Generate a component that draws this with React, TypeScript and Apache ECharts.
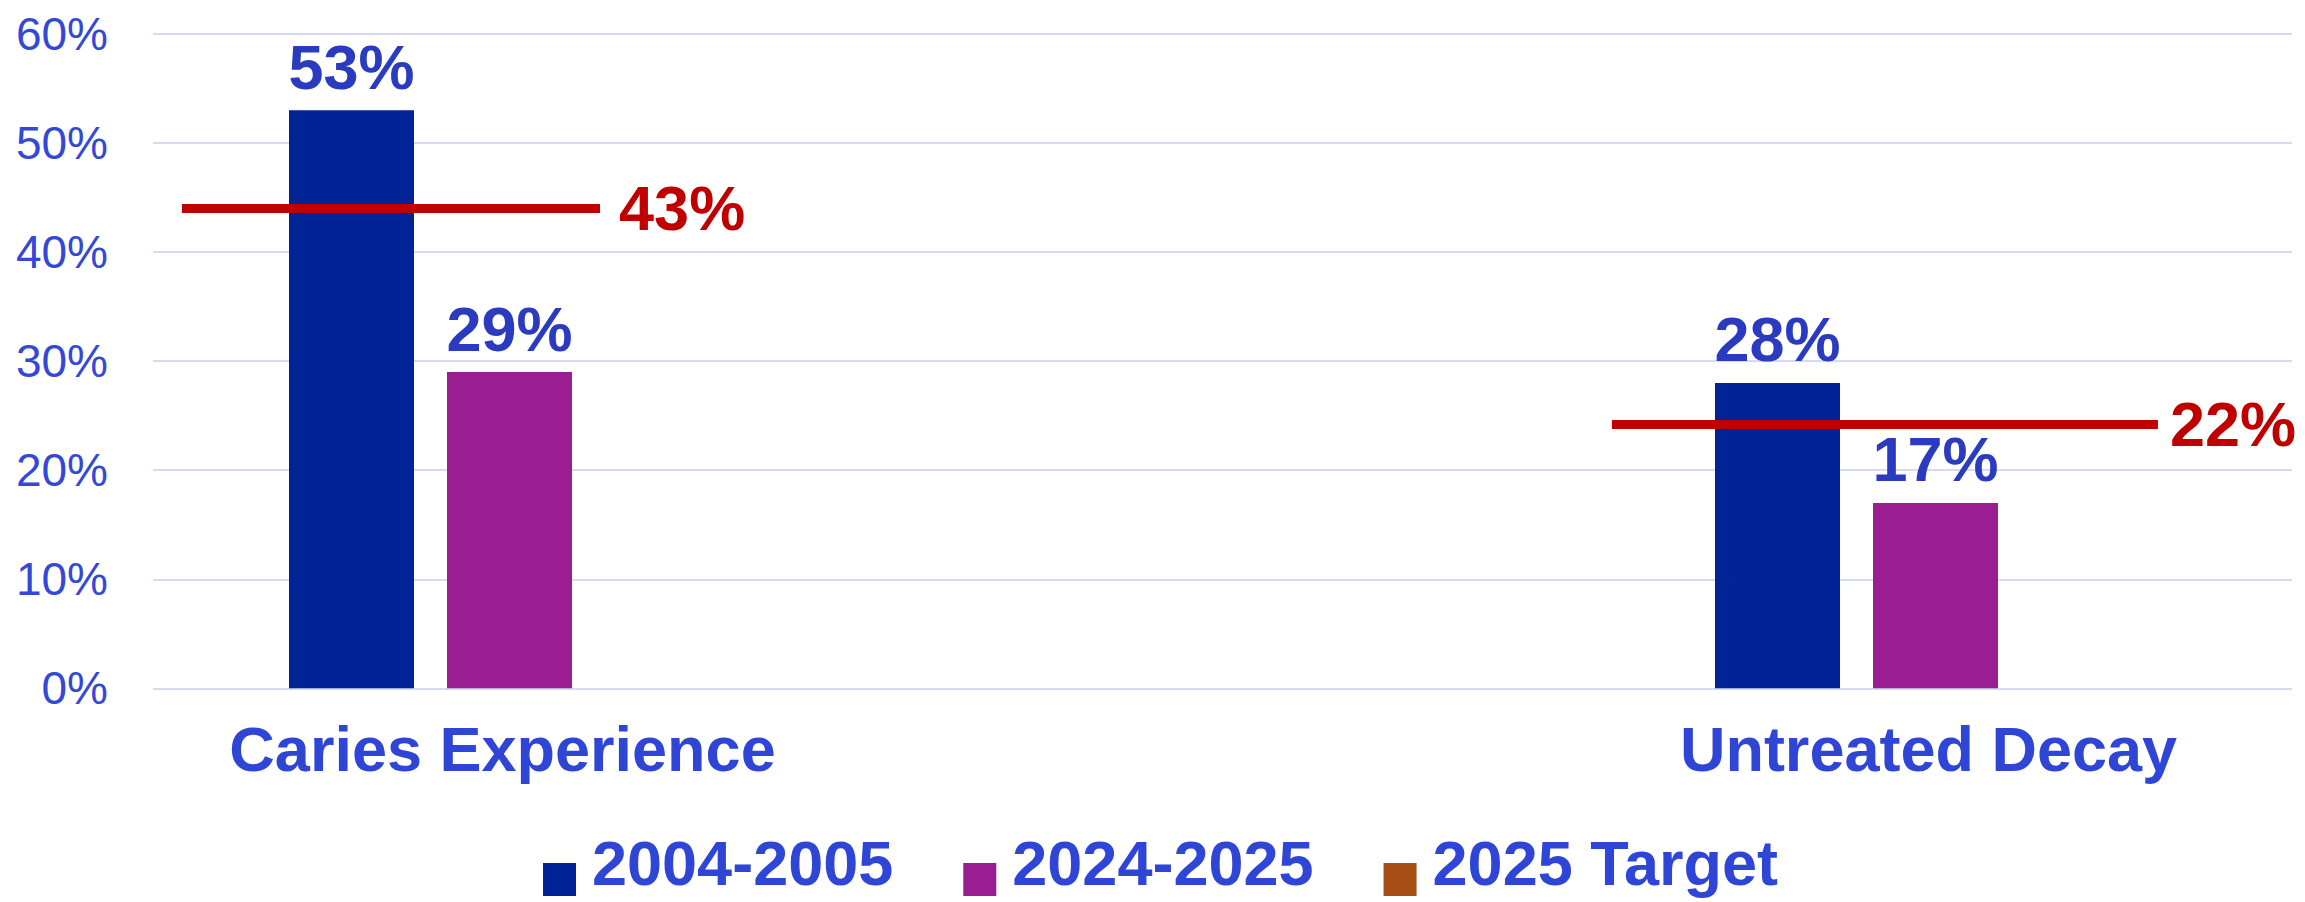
import React, { useEffect, useRef } from "react";
import * as echarts from "echarts";

// ---- data ----
const categories = ["Caries Experience", "Untreated Decay"];
const seriesNames = ["2004-2005", "2024-2025", "2025 Target"];
const values2004 = [53, 28];
const values2024 = [29, 17];
const targetValues = [43, 22]; // labelled target values
const targetLineLevels = [44.0, 24.2]; // level at which target lines are drawn
const yTicks = [0, 10, 20, 30, 40, 50, 60];

// ---- layout (axis units: category i sits at x = i) ----
const targetSpan = [
  [-0.1743, 0.1189],
  [0.8285, 1.2114],
];
const targetLabelGap = [19, 12];

const FONT = "'Liberation Sans', Arial, sans-serif";
const TEXT_BLUE = "#2f45d6";
const LABEL_BLUE = "#2a3bbf";
const RED = "#c00000";
const COLORS = ["#002395", "#9b1d92", "#a84e17"];
// legend square sitting low in its item box
const LEGEND_ICON = "path://M0,0L0,0M0,34L33,34L33,67L0,67Z";

export default function App() {
  const ref = useRef<HTMLDivElement>(null);

  useEffect(() => {
    document.body.style.margin = "0";
    if (!ref.current) return;
    const chart = echarts.init(ref.current, undefined, { renderer: "svg" });

    const barLabel = {
      show: true,
      position: "top",
      distance: 12,
      color: LABEL_BLUE,
      fontSize: 63,
      fontWeight: "bold",
      fontFamily: FONT,
      formatter: (p: any) => `${p.value[1]}%`,
    };

    const option: any = {
      animation: false,
      backgroundColor: "#ffffff",
      grid: { left: 153, right: 13, top: 34, height: 654.3, containLabel: false },
      legend: {
        left: 538,
        top: 824,
        icon: LEGEND_ICON,
        itemWidth: 33,
        itemHeight: 67,
        itemGap: 70,
        textStyle: {
          color: TEXT_BLUE,
          fontSize: 63,
          fontWeight: "bold",
          fontFamily: FONT,
          padding: [0, 0, 0, 11],
        },
        data: [
          { name: seriesNames[0] },
          { name: seriesNames[1] },
          { name: seriesNames[2], itemStyle: { color: COLORS[2], borderWidth: 0 } },
        ],
      },
      xAxis: {
        type: "value",
        min: -0.1946,
        max: 1.3054,
        axisLine: { show: false },
        axisTick: { show: false },
        splitLine: { show: false },
        axisLabel: {
          customValues: categories.map((_, i) => i),
          formatter: (v: number) => categories[Math.round(v)] ?? "",
          color: TEXT_BLUE,
          fontSize: 63,
          fontWeight: "bold",
          fontFamily: FONT,
          margin: 29,
          padding: [0, 0, 0, 144],
        },
      },
      yAxis: {
        type: "value",
        min: yTicks[0],
        max: yTicks[yTicks.length - 1],
        interval: 10,
        axisLine: { show: false },
        axisTick: { show: false },
        splitLine: { show: true, lineStyle: { color: "#d6daf5", width: 2 } },
        axisLabel: {
          formatter: "{value}%",
          color: "#3448d8",
          fontSize: 46,
          fontFamily: FONT,
          margin: 45,
        },
      },
      series: [
        {
          name: seriesNames[0],
          type: "bar",
          barWidth: 125,
          barGap: "26.4%",
          itemStyle: { color: COLORS[0] },
          label: barLabel,
          data: categories.map((_, i) => [i, values2004[i]]),
        },
        {
          name: seriesNames[1],
          type: "bar",
          barWidth: 125,
          barGap: "26.4%",
          itemStyle: { color: COLORS[1] },
          label: barLabel,
          data: categories.map((_, i) => [i, values2024[i]]),
        },
        {
          name: seriesNames[2],
          type: "line",
          itemStyle: { color: COLORS[2] },
          lineStyle: { color: RED, width: 9 },
          symbol: "none",
          data: [],
          markLine: {
            silent: true,
            symbol: ["none", "none"],
            lineStyle: { color: RED, width: 9, type: "solid" },
            label: {
              show: true,
              position: "end",
              color: RED,
              fontSize: 63,
              fontWeight: "bold",
              fontFamily: FONT,
            },
            data: targetValues.map((t, i) => [
              {
                coord: [targetSpan[i][0], targetLineLevels[i]],
                label: { formatter: `${t}%`, distance: targetLabelGap[i] },
              },
              { coord: [targetSpan[i][1], targetLineLevels[i]] },
            ]),
          },
        },
      ],
    };

    chart.setOption(option);
    return () => chart.dispose();
  }, []);

  return <div ref={ref} style={{ width: 2305, height: 902 }} />;
}
